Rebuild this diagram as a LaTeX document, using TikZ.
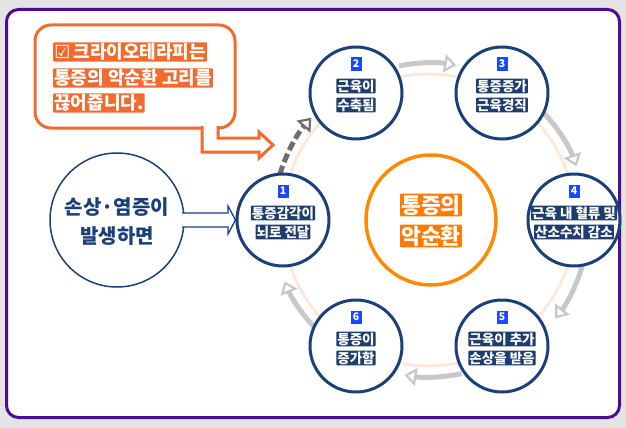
\documentclass[tikz,border=0pt]{standalone}
\usepackage{fontspec}
\newfontfamily\kr{Noto Sans CJK KR}
\newfontfamily\dv{DejaVu Sans}
\usetikzlibrary{arrows.meta,calc}
\definecolor{bggray}{HTML}{E4E4E4}
\definecolor{framepurple}{HTML}{4B0F8C}
\definecolor{navy}{HTML}{1C3F7A}
\definecolor{halonavy}{HTML}{1E3D6E}
\definecolor{badgeblue}{HTML}{1A47FF}
\definecolor{ctrorange}{HTML}{FF8A00}
\definecolor{haloorange}{HTML}{FF7A00}
\definecolor{callorange}{HTML}{F26A2E}
\definecolor{ringpeach}{HTML}{FDE9DC}
\definecolor{arrgray}{HTML}{C8C8C8}
\definecolor{darkgray}{HTML}{6E6E6E}
\begin{document}
\begin{tikzpicture}[x=1pt,y=-1pt,
  stepcirc/.style={circle,draw=navy,line width=3pt,fill=white,minimum size=92pt,inner sep=0pt},
  lbl/.style={fill=halonavy,text=white,font=\kr\bfseries\fontsize{13.5}{15}\selectfont,inner sep=1.1pt,rounded corners=1pt},
  badge/.style={fill=badgeblue,text=white,font=\kr\bfseries\fontsize{10.5}{12}\selectfont,inner sep=1pt,minimum width=11pt,minimum height=13pt},
  olbl/.style={fill=callorange,text=white,font=\kr\bfseries\fontsize{18}{20}\selectfont,inner sep=1.2pt,rounded corners=1pt,anchor=west},
  clbl/.style={fill=haloorange,text=white,font=\kr\bfseries\fontsize{21.5}{24}\selectfont,inner sep=1.3pt,rounded corners=1pt},
  cyc/.style={arrgray,line width=5pt,-{Triangle[open,fill=white,length=12pt,width=18pt,line width=2.2pt]}},
  cycd/.style={darkgray,line width=5pt,dash pattern=on 9pt off 4pt,-{Triangle[open,fill=white,length=12pt,width=18pt,line width=2.2pt]}}
]
\useasboundingbox (0,0) rectangle (626,428);
\fill[bggray] (0,0) rectangle (626,428);
\node[draw=framepurple,line width=3pt,fill=white,rounded corners=12pt,minimum width=613pt,minimum height=408pt,inner sep=0pt] (frame) at (313,213.5) {};

% faint ring
\coordinate (ring) at (429,220);
\draw[ringpeach,line width=3pt] (ring) circle[radius=146];

% cycle arrows
\coordinate (a12) at ($(ring)+(-163:156)$);
\coordinate (a23) at ($(ring)+(-101:157)$);
\coordinate (a34) at ($(ring)+(-43:157)$);
\coordinate (a45) at ($(ring)+(15:160)$);
\coordinate (a56) at ($(ring)+(78:157)$);
\coordinate (a61) at ($(ring)+(137:157)$);
\draw[cyc] (a23) arc[start angle=-101,end angle=-80,radius=157];
\draw[cyc] (a34) arc[start angle=-43,end angle=-20,radius=157];
\draw[cyc] (a45) arc[start angle=15,end angle=38,radius=160];
\draw[cyc] (a56) arc[start angle=78,end angle=99,radius=157];
\draw[cyc] (a61) arc[start angle=137,end angle=157,radius=157];
\draw[cycd] (a12) arc[start angle=-163,end angle=-139,radius=156];

% center
\node[circle,draw=ctrorange,line width=3.5pt,fill=white,minimum size=130pt] (ctr) at (431,220) {};
\node[clbl] (m1) at (431,205) {통증의};
\node[clbl] (m2) at (431,236) {악순환};

% step nodes
\node[stepcirc] (n1) at (283,220) {};
\node[badge] (b1) at (283,191) {1};
\node[lbl] (t1a) at (283,213) {통증감각이};
\node[lbl] (t1b) at (283,232) {뇌로 전달};

\node[stepcirc] (n2) at (356,93) {};
\node[badge] (b2) at (356,64) {2};
\node[lbl] (t2a) at (356,86) {근육이};
\node[lbl] (t2b) at (356,105) {수축됨};

\node[stepcirc] (n3) at (502,93) {};
\node[badge] (b3) at (502,64) {3};
\node[lbl] (t3a) at (502,86) {통증증가};
\node[lbl] (t3b) at (502,105) {근육경직};

\node[stepcirc] (n4) at (574,220) {};
\node[badge] (b4) at (574,191) {4};
\node[lbl] (t4a) at (574,213) {근육 내 혈류 및};
\node[lbl] (t4b) at (574,232) {산소수치 감소};

\node[stepcirc] (n5) at (502,346) {};
\node[badge] (b5) at (502,317) {5};
\node[lbl] (t5a) at (502,339) {근육이 추가};
\node[lbl] (t5b) at (502,358) {손상을 받음};

\node[stepcirc] (n6) at (356,346) {};
\node[badge] (b6) at (356,317) {6};
\node[lbl] (t6a) at (356,339) {통증이};
\node[lbl] (t6b) at (356,358) {증가함};

% left circle
\node[circle,draw=navy,line width=1.5pt,fill=white,minimum size=134pt] (src) at (117,220) {};
\node[text=navy,font=\kr\bfseries\fontsize{20}{22}\selectfont] (s1) at (117,207) {손상·염증이};
\node[text=navy,font=\kr\bfseries\fontsize{20}{22}\selectfont] (s2) at (117,236) {발생하면};

% block arrow from src to n1
\coordinate (ba1) at (182,213);
\coordinate (ba2) at (182,227);
\coordinate (tip) at (n1.west);
\fill[white] (ba1) -- (228,213) -- (228,206) -- (tip) -- (228,234) -- (228,227) -- (ba2) -- cycle;
\draw[navy,line width=1.3pt,line join=miter] (ba1) -- (228,213) -- (228,206) -- (tip) -- (228,234) -- (228,227) -- (ba2);

% callout
\node[draw=callorange,line width=3pt,fill=white,rounded corners=16pt,minimum width=200pt,minimum height=103pt,inner sep=0pt] (co) at (135,76.5) {};
\coordinate (ct1) at (202,126);
\coordinate (ct2) at (218,126);
\coordinate (ctip) at (273,145);
\fill[white] (ct1) -- (202,152) -- (259,152) -- (259,158) -- (ctip) -- (259,132) -- (259,138) -- (218,138) -- (ct2) -- cycle;
\draw[callorange,line width=3pt,line join=miter] (ct1) -- (202,152) -- (259,152) -- (259,158) -- (ctip) -- (259,132) -- (259,138) -- (218,138) -- (ct2);
\node[olbl] (c1) at (53,52) {{\dv ☑}\,크라이오테라피는};
\node[olbl] (c2) at (53,78) {통증의 악순환 고리를};
\node[olbl] (c3) at (53,103) {끊어줍니다.};
\end{tikzpicture}
\end{document}
